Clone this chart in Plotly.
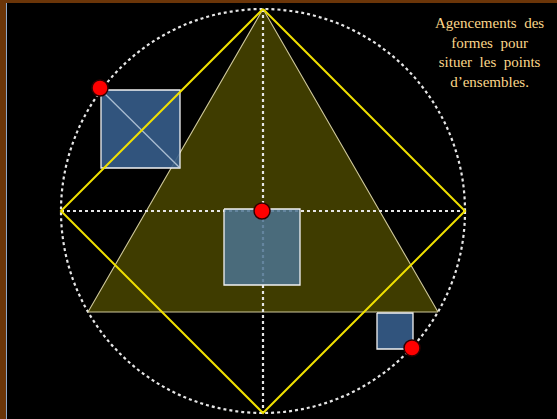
import plotly.graph_objects as go

W, H = 557, 419

# geometry (pixel-like units, y downward)
circle_center = [263, 211]
circle_radius = [202]
diamond_x = [263, 465, 263, 61, 263]
diamond_y = [9, 211, 413, 211, 9]
triangle_x = [263, 438, 88, 263]
triangle_y = [9, 312, 312, 9]
axis_v_x = [263, 263]
axis_v_y = [9, 413]
axis_h_x = [61, 465]
axis_h_y = [211, 211]
squares_x0 = [101, 224, 377]
squares_y0 = [90, 209, 313]
squares_x1 = [180, 300, 413]
squares_y1 = [168, 285, 349]
diag_x = [101, 180]
diag_y = [90, 168]
points_x = [100, 262, 412]
points_y = [88, 211, 348]
title_lines = ["Agencements  des", "formes  pour", "situer  les  points", "d\u2019ensembles."]

fig = go.Figure()

# triangle
fig.add_trace(go.Scatter(x=triangle_x, y=triangle_y, mode="lines", fill="toself",
                         fillcolor="#3f3c00", line=dict(color="#cfc89a", width=1.1),
                         hoverinfo="skip"))
# dotted axes
fig.add_trace(go.Scatter(x=axis_v_x, y=axis_v_y, mode="lines",
                         line=dict(color="#e6e6e6", width=2.2, dash="dot"), hoverinfo="skip"))
fig.add_trace(go.Scatter(x=axis_h_x, y=axis_h_y, mode="lines",
                         line=dict(color="#e6e6e6", width=2.2, dash="dot"), hoverinfo="skip"))

# squares as filled traces
fills = ["rgba(54,93,139,0.9)", "rgba(76,115,144,0.85)", "rgba(54,93,139,0.9)"]
for i in range(3):
    xs = [squares_x0[i], squares_x1[i], squares_x1[i], squares_x0[i], squares_x0[i]]
    ys = [squares_y0[i], squares_y0[i], squares_y1[i], squares_y1[i], squares_y0[i]]
    fig.add_trace(go.Scatter(x=xs, y=ys, mode="lines", fill="toself", fillcolor=fills[i],
                             line=dict(color="#f2f2f2", width=1.3), hoverinfo="skip"))
# square diagonal
fig.add_trace(go.Scatter(x=diag_x, y=diag_y, mode="lines",
                         line=dict(color="rgba(200,215,230,0.8)", width=1.3), hoverinfo="skip"))

# diamond
fig.add_trace(go.Scatter(x=diamond_x, y=diamond_y, mode="lines",
                         line=dict(color="#f0e000", width=2), hoverinfo="skip"))
# red points
fig.add_trace(go.Scatter(x=points_x, y=points_y, mode="markers",
                         marker=dict(size=16, color="#ff0000", line=dict(color="#300000", width=1.5)),
                         hoverinfo="skip"))

shapes = []
cx, cy = circle_center
r = circle_radius[0]
shapes.append(dict(type="circle", xref="x", yref="y", x0=cx - r, x1=cx + r, y0=cy - r, y1=cy + r,
                   line=dict(color="#e6e6e6", width=2.2, dash="dot"), layer="below"))
# brown border
shapes.append(dict(type="rect", xref="paper", yref="paper", x0=0, x1=6 / W, y0=0, y1=1,
                   fillcolor="#6b3508", line=dict(width=0), layer="above"))
shapes.append(dict(type="rect", xref="paper", yref="paper", x0=0, x1=1, y0=1 - 3 / H, y1=1,
                   fillcolor="#6b3508", line=dict(width=0), layer="above"))
shapes.append(dict(type="line", xref="paper", yref="paper", x0=6.5 / W, x1=6.5 / W, y0=0, y1=1 - 3 / H,
                   line=dict(color="#8fa8c8", width=1), layer="above"))
fig.update_layout(shapes=shapes)

fig.add_annotation(x=489, y=52, xref="x", yref="y", text="<br>".join(title_lines),
                   showarrow=False, align="center",
                   font=dict(family="Liberation Serif", size=15, color="#fbd68a"))

fig.update_xaxes(range=[0, W], visible=False, fixedrange=True)
fig.update_yaxes(range=[H, 0], visible=False, fixedrange=True)
fig.update_layout(width=W, height=H, margin=dict(l=0, r=0, t=0, b=0),
                  paper_bgcolor="#000000", plot_bgcolor="#000000", showlegend=False)

fig.write_html("out.html", config={"displayModeBar": False},
               post_script="document.body.style.margin='0px';")
